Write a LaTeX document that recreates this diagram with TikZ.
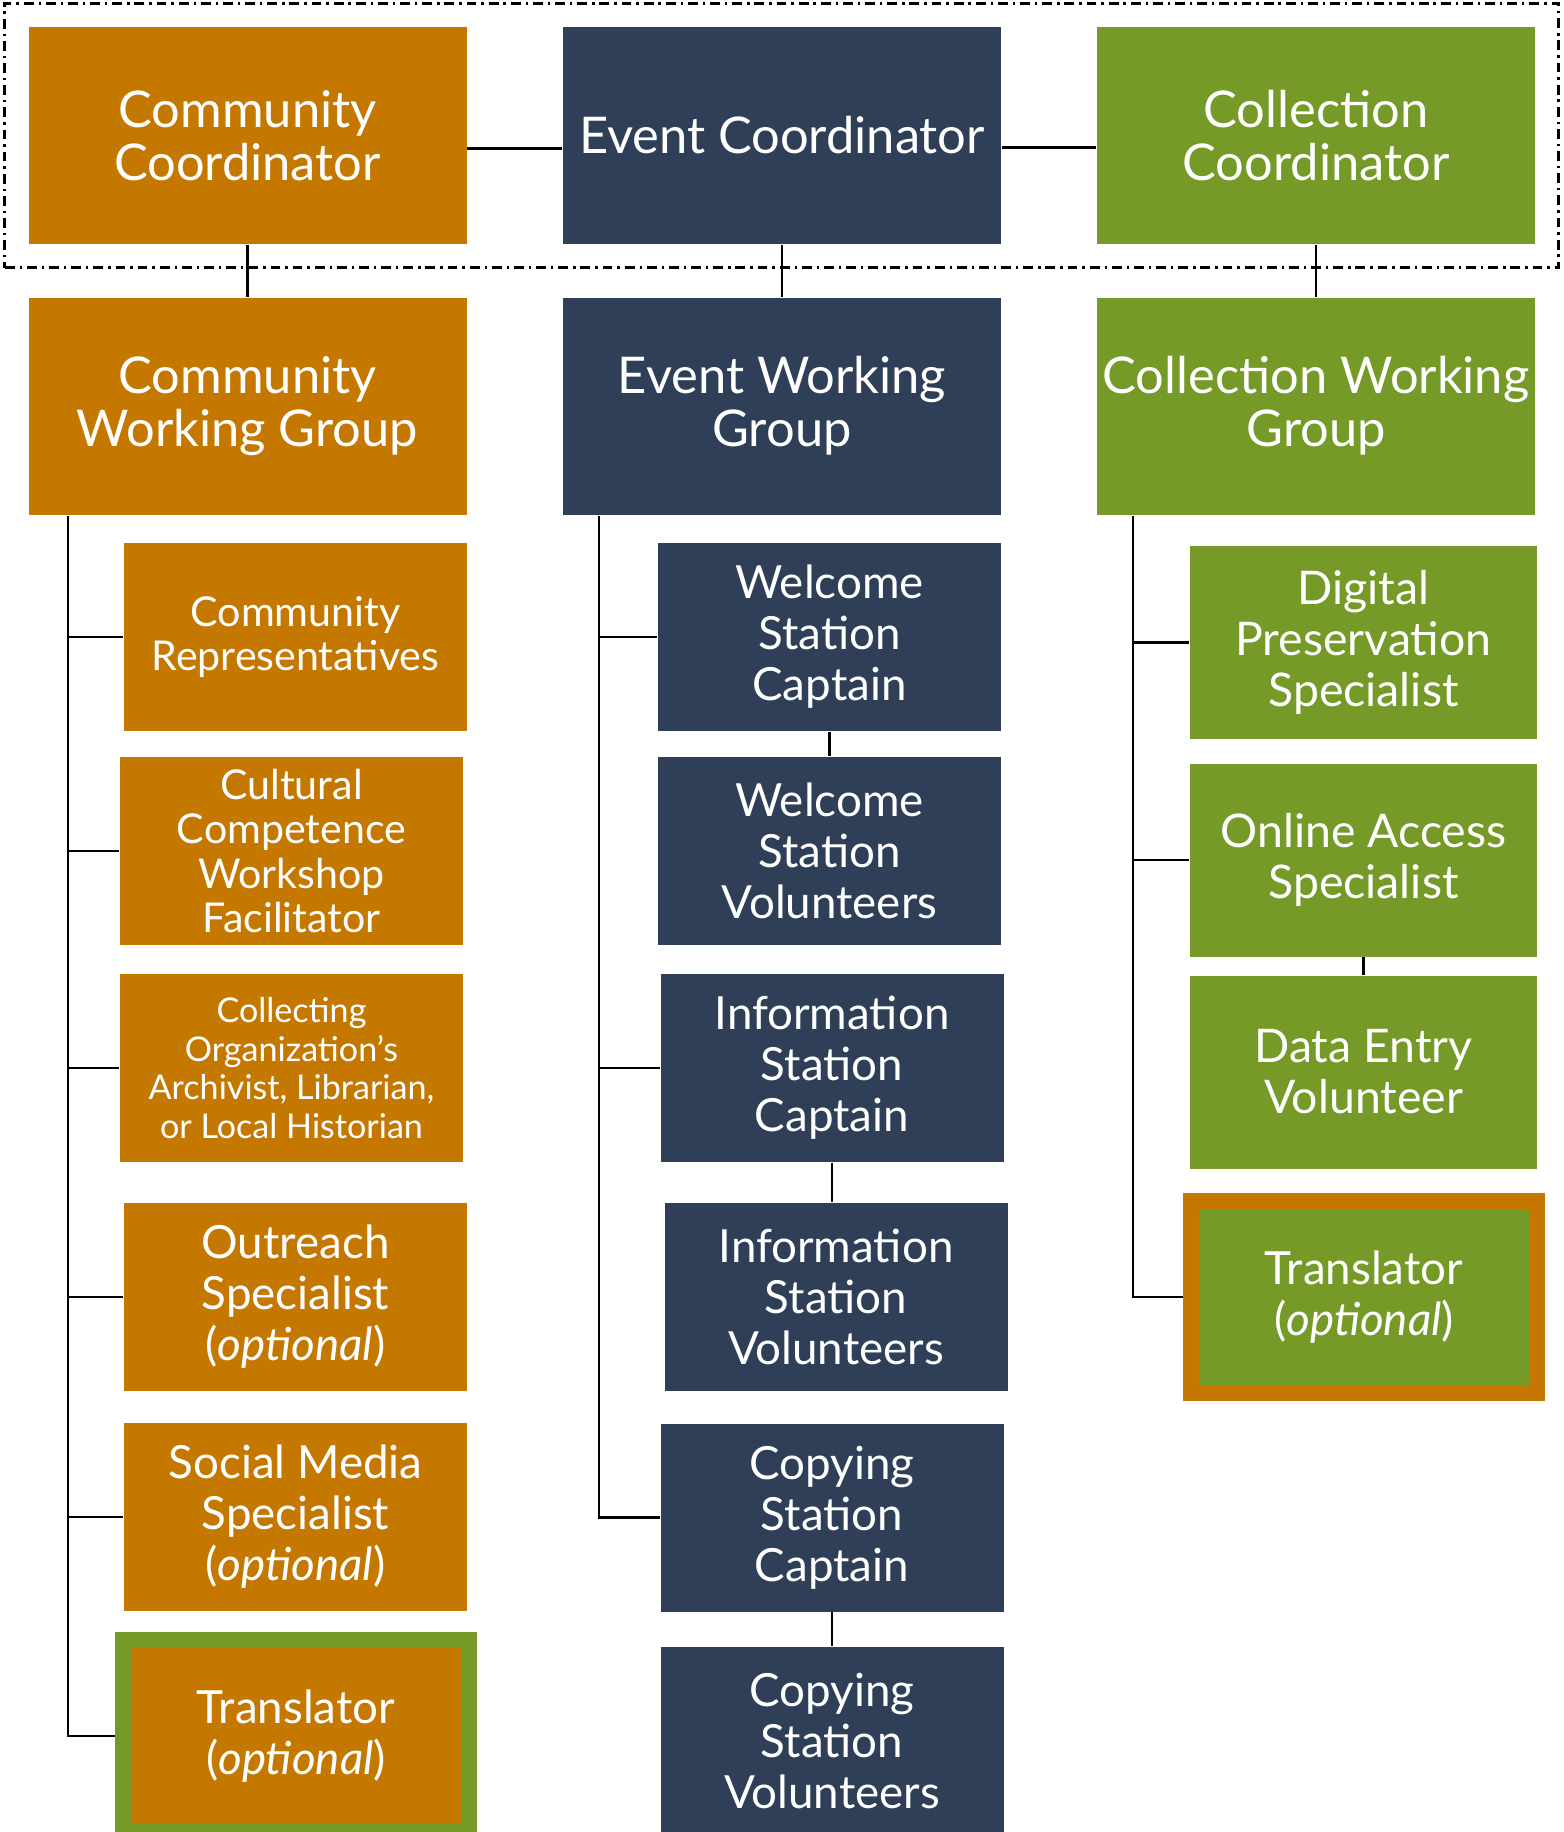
\documentclass[tikz,border=0pt]{standalone}
\usepackage{fontspec}
\setmainfont{Lato}
\usepackage{xcolor}
\usepackage{tikz}
\usetikzlibrary{positioning,fit}
\definecolor{commorange}{RGB}{197,120,0}
\definecolor{eventnavy}{RGB}{46,63,87}
\definecolor{collgreen}{RGB}{117,154,39}

\tikzset{
  rolebox/.style={rectangle, draw=none, text=white, align=center, inner sep=0pt},
  leadbox/.style={rolebox, minimum width=4.38cm, minimum height=2.17cm, font=\fontsize{14.4}{15.1}\selectfont},
  memberbox/.style={rolebox, minimum width=3.43cm, minimum height=1.88cm, font=\fontsize{13}{14.5}\selectfont},
  specbox/.style={rolebox, minimum width=3.47cm, minimum height=1.93cm, font=\fontsize{13.2}{14.5}\selectfont},
  borderbox/.style={rolebox, line width=0.16cm, minimum width=3.46cm, minimum height=1.92cm, font=\fontsize{13}{14.5}\selectfont},
  link/.style={draw=black, line width=0.7pt},
  groupbox/.style={draw=black, line width=0.75pt, dash pattern=on 2.8pt off 1.4pt on 0.7pt off 1.4pt, inner sep=0.23cm}
}

\begin{document}
\begin{tikzpicture}
\useasboundingbox (0,0) rectangle (15.63,-18.32);

% Coordinators
\node[leadbox, fill=commorange] (commcoord) at (2.475,-1.355) {Community\\Coordinator};
\node[leadbox, fill=eventnavy] (eventcoord) at (7.82,-1.355) {Event Coordinator};
\node[leadbox, fill=collgreen] (collcoord) at (13.16,-1.355) {Collection\\Coordinator};
\node[groupbox, fit=(commcoord)(eventcoord)(collcoord)] (coords) {};

% Working groups
\node[leadbox, fill=commorange] (commgroup) at (2.475,-4.06) {Community\\Working Group};
\node[leadbox, fill=eventnavy] (eventgroup) at (7.82,-4.06) {Event Working\\Group};
\node[leadbox, fill=collgreen] (collgroup) at (13.16,-4.06) {Collection Working\\Group};

% Community column
\node[memberbox, fill=commorange, font=\fontsize{11.7}{12.6}\selectfont] (commrep) at (2.955,-6.37) {Community\\Representatives};
\node[memberbox, fill=commorange, font=\fontsize{11.7}{12.6}\selectfont] (culture) at (2.915,-8.51) {Cultural\\Competence\\Workshop\\Facilitator};
\node[memberbox, fill=commorange, font=\fontsize{9.7}{11}\selectfont] (archivist) at (2.915,-10.68) {Collecting\\Organization’s\\Archivist, Librarian,\\or Local Historian};
\node[memberbox, fill=commorange] (outreach) at (2.955,-12.97) {Outreach\\Specialist\\(\textit{optional})};
\node[memberbox, fill=commorange] (social) at (2.955,-15.17) {Social Media\\Specialist\\(\textit{optional})};
\node[borderbox, fill=commorange, draw=collgreen] (commtrans) at (2.96,-17.36) {Translator\\(\textit{optional})};

% Event column
\node[memberbox, fill=eventnavy] (welcomecapt) at (8.295,-6.37) {Welcome\\Station\\Captain};
\node[memberbox, fill=eventnavy] (welcomevol) at (8.295,-8.51) {Welcome\\Station\\Volunteers};
\node[memberbox, fill=eventnavy] (infocapt) at (8.32,-10.68) {Information\\Station\\Captain};
\node[memberbox, fill=eventnavy] (infovol) at (8.36,-12.97) {Information\\Station\\Volunteers};
\node[memberbox, fill=eventnavy] (copycapt) at (8.32,-15.175) {Copying\\Station\\Captain};
\node[memberbox, fill=eventnavy] (copyvol) at (8.32,-17.41) {Copying\\Station\\Volunteers};

% Collection column
\node[specbox, fill=collgreen] (digital) at (13.635,-6.425) {Digital\\Preservation\\Specialist};
\node[specbox, fill=collgreen] (online) at (13.635,-8.60) {Online Access\\Specialist};
\node[specbox, fill=collgreen] (dataentry) at (13.635,-10.72) {Data Entry\\Volunteer};
\node[borderbox, fill=collgreen, draw=commorange] (colltrans) at (13.64,-12.97) {Translator\\(\textit{optional})};

% Coordinator links
\draw[link] ([yshift=-0.13cm]commcoord.east) -- ([yshift=-0.13cm]eventcoord.west);
\draw[link] ([yshift=-0.12cm]eventcoord.east) -- ([yshift=-0.12cm]collcoord.west);
\draw[link] (commcoord) -- (commgroup);
\draw[link] (eventcoord) -- (eventgroup);
\draw[link] (collcoord) -- (collgroup);

% Trunks
\coordinate (commtrunk) at (0.68,-5.16);
\draw[link] (commtrunk) |- (commtrans.west);
\foreach \n in {commrep, culture, archivist, outreach, social}
  \draw[link] (commtrunk |- \n.west) -- (\n.west);

\coordinate (eventtrunk) at (5.99,-5.16);
\draw[link] (eventtrunk) |- (copycapt.west);
\foreach \n in {welcomecapt, infocapt}
  \draw[link] (eventtrunk |- \n.west) -- (\n.west);
\draw[link] (welcomecapt.south) -- (welcomecapt.south |- welcomevol.north);
\draw[link] (infocapt.south) -- (infocapt.south |- infovol.north);
\draw[link] (copycapt.south) -- (copycapt.south |- copyvol.north);

\coordinate (colltrunk) at (11.33,-5.16);
\draw[link] (colltrunk) |- (colltrans.west);
\foreach \n in {digital, online}
  \draw[link] (colltrunk |- \n.west) -- (\n.west);
\draw[link] (online.south) -- (online.south |- dataentry.north);
\end{tikzpicture}
\end{document}
